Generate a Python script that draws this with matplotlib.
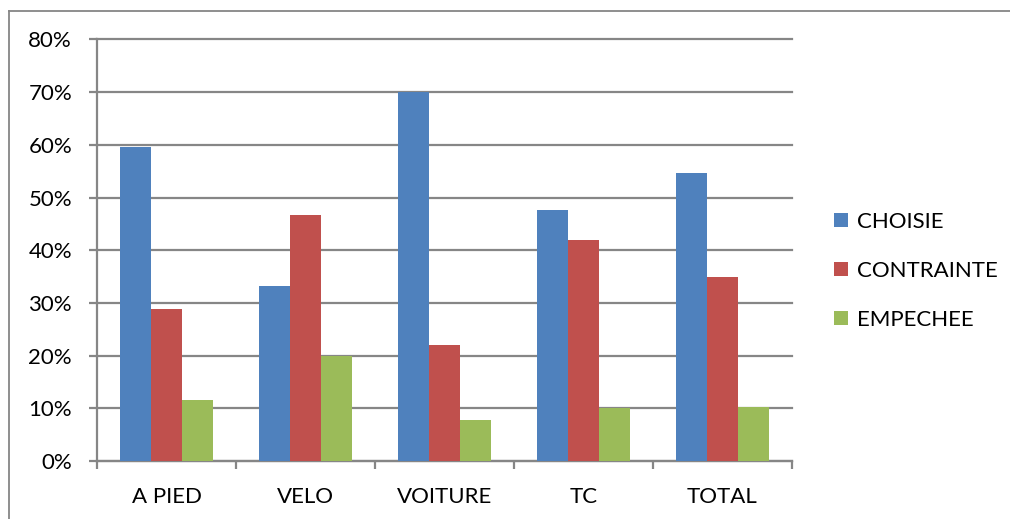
import numpy as np
import matplotlib
matplotlib.use("Agg")
import matplotlib.pyplot as plt
from matplotlib.lines import Line2D
from matplotlib.ticker import PercentFormatter

plt.rcParams['font.family'] = ['Lato', 'DejaVu Sans']

# share of trips per mode, by type of choice
modes      = ["A PIED", "VELO", "VOITURE", "TC", "TOTAL"]
choisie    = [59.6, 33.3, 70.1, 47.7, 54.7]
contrainte = [28.8, 46.6, 22.0, 42.0, 34.9]
empechee   = [11.5, 20.0, 7.8, 10.1, 10.2]

series = [("CHOISIE", choisie, "#4F81BD"),
          ("CONTRAINTE", contrainte, "#C0504D"),
          ("EMPECHEE", empechee, "#9BBB59")]

grey = "#868686"

fig = plt.figure(figsize=(10.10, 5.19), dpi=100)
ax = fig.add_axes([97/1010, 1-461/519, (792-97)/1010, (461-39.5)/519])

x = np.arange(len(modes))
w = 0.223
for i, (name, vals, col) in enumerate(series):
    ax.bar(x + (i-1)*w, vals, width=w, color=col, label=name, zorder=3)

ax.set_xlim(-0.5, len(modes)-0.5)
ax.set_ylim(0, 80)
ax.set_yticks(np.arange(0, 81, 10))
ax.yaxis.set_major_formatter(PercentFormatter(decimals=0))
ax.yaxis.grid(True, color=grey, linewidth=1.6, zorder=0)
for gl in ax.get_ygridlines():
    gl.set_clip_on(False)

ax.set_xticks(x)
ax.set_xticklabels(modes)
ax.set_xticks(np.arange(-0.5, len(modes)), minor=True)
ax.tick_params(axis='x', which='major', length=0, pad=19, labelsize=16)
ax.tick_params(axis='x', which='minor', length=6, width=1.6, color=grey, direction='out')
ax.tick_params(axis='y', length=6, width=1.6, color=grey, direction='out', pad=12, labelsize=16)

for s in ["top", "right"]:
    ax.spines[s].set_visible(False)
for s in ["left", "bottom"]:
    ax.spines[s].set_color(grey)
    ax.spines[s].set_linewidth(1.6)

fig.legend(loc='upper left', bbox_to_anchor=(834/1010, 1-212/519), frameon=False,
           fontsize=16, handlelength=0.62, handleheight=0.62, handletextpad=0.4,
           labelspacing=1.3, borderpad=0, borderaxespad=0)

# outer chart frame
fig.add_artist(Line2D([8.5/1010, 1.0], [1-10.5/519]*2, transform=fig.transFigure, color=grey, lw=1.3))
fig.add_artist(Line2D([8.5/1010]*2, [0, 1-10.5/519], transform=fig.transFigure, color=grey, lw=1.3))

fig.savefig("out.png", dpi=100)
